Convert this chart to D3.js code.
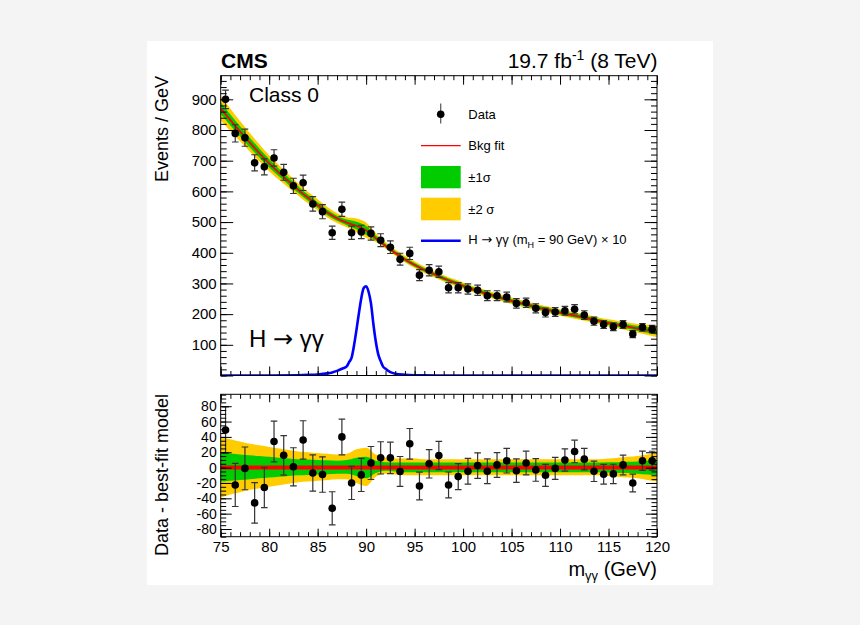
<!DOCTYPE html>
<html><head><meta charset="utf-8">
<script src="https://cdn.jsdelivr.net/npm/d3@7"></script>
<style>
body{margin:0;background:#f4f4f4}
svg{display:block}
text{font-family:"Liberation Sans",Arial,Helvetica,sans-serif;fill:#000}
.arr{font-family:"DejaVu Sans",sans-serif}
</style>
</head><body>
<svg id="c" width="860" height="625"></svg>
<script>
// ---------------- data ----------------
const binCenters = [75.5,76.5,77.5,78.5,79.5,80.5,81.5,82.5,83.5,84.5,85.5,86.5,87.5,88.5,89.5,90.5,91.5,92.5,93.5,94.5,95.5,96.5,97.5,98.5,99.5,100.5,101.5,102.5,103.5,104.5,105.5,106.5,107.5,108.5,109.5,110.5,111.5,112.5,113.5,114.5,115.5,116.5,117.5,118.5,119.5];
const dataEvents = [900,789,775,693,680,709,662,618,628,559,534,465,542,465,468,463,441,418,379,398,327,343,338,286,286,282,278,260,260,256,235,237,219,205,207,211,216,197,177,166,159,166,135,157,151];
const residuals = [49,-22.6,-1,-46,-26,34,16,1,36,-7,-9,-53,40,-20,-9.5,6,12.7,12.7,-5,31,-24,5,15.7,-22.6,-11.7,-4.8,2.6,-4.8,3.5,9,-4,6,-3,-10,-1,10,21,11,-4.8,-8.6,-8.2,3.5,-20,9,9];

const fitX = [75,76,77,78,79,80,81,82,83,84,85,86,87,88,89,90,91,92,93,94,95,96,97,98,99,100,101,102,103,104,105,106,107,108,109,110,111,112,113,114,115,116,117,118,119,120];
const fitY = [870,832,795,759,724,691,661,633,605,579,555,531,512,498,488,473,447,422,399,378,360,344,330,316,304,292,281,271,261,252,243,235,227,219,212,205,198,192,185,178,171,165,159,153,148,143];
const hi2 = [40,37,34,31,29,27,25,23,21,20,19,18,17,18,24,26,17,13,12,12,12,11,11,11,11,11,11,11,11,11,11,11,11,11,11,11,11,11,11,11,12,13,14,15,17,19];
const lo2 = [-39,-35,-32,-29,-27,-25,-23,-21,-19,-18,-17,-16,-15,-15,-20,-24,-12,-8,-9,-10,-10,-10,-10,-10,-10,-10,-10,-10,-10,-10,-10,-10,-10,-10,-10,-10,-10,-10,-10,-10,-11,-12,-13,-14,-16,-18];
const hi1 = [20,18.5,17,16,15,14,13,12,11,10.5,10,9.5,9,10,13,14,9,7,6.5,6.5,6.5,6.5,6.5,6.5,6.5,6.5,6.5,6.5,6.5,6.5,6.5,6.5,6.5,6.5,6.5,6.5,6.5,6.5,6.5,6.5,7,7,7.5,8,9,10];
const lo1 = [-18,-17,-16,-15,-14,-13,-12,-11,-10,-9.5,-9,-8.5,-8,-8,-11,-14,-7,-4,-5,-6,-6,-6,-6,-6,-6,-6,-6,-6,-6,-6,-6,-6,-6,-6,-6,-6,-6,-6,-6,-6,-6.5,-7,-7,-8,-9,-10];

const sigX = [75,80,83,84,85,86,86.5,87,87.5,88,88.25,88.5,88.75,89,89.25,89.5,89.75,90,90.25,90.5,90.75,91,91.25,91.5,91.75,92,92.5,93,94,95,96,98,120];
const sigY = [0,0.2,1,2,3.5,7,10,15,22,30,44,58,98,148,202,252,285,291,273,235,167,110,69,47,29,22,11,6,2.5,1,0.5,0,0];

const topYTicks = [0,100,200,300,400,500,600,700,800,900];
const botYTicks = [-80,-60,-40,-20,0,20,40,60,80];
const xTicks = [75,80,85,90,95,100,105,110,115,120];

// ---------------- layout ----------------
const svg = d3.select("#c");
svg.append("rect").attr("width",860).attr("height",625).attr("fill","#f4f4f4");
svg.append("rect").attr("x",147).attr("y",41).attr("width",566).attr("height",544).attr("fill","#fff");

const X0 = 220.7, X1 = 657;
const T0 = 75.7, T1 = 375.5;   // top panel frame
const B0 = 394.3, B1 = 536.7;  // bottom panel frame

const x = d3.scaleLinear().domain([75,120]).range([X0,X1]);
const yT = d3.scaleLinear().domain([0,977]).range([T1,T0]);
const yB = d3.scaleLinear().domain([-90,95.5]).range([B1,B0]);

const defs = svg.append("defs");
defs.append("clipPath").attr("id","clipT").append("rect").attr("x",X0).attr("y",T0).attr("width",X1-X0).attr("height",T1-T0);
defs.append("clipPath").attr("id","clipB").append("rect").attr("x",X0).attr("y",B0).attr("width",X1-X0).attr("height",B1-B0);

const idx = fitX.map((d,i)=>i);
const YEL = "#ffcc00", GRN = "#00cc00";

// ---------- top panel ----------
const gT = svg.append("g").attr("clip-path","url(#clipT)");
const bandT = (lo,hi) => d3.area().curve(d3.curveMonotoneX)
  .x(i=>x(fitX[i])).y0(i=>yT(fitY[i]+lo[i])).y1(i=>yT(fitY[i]+hi[i]));
gT.append("path").datum(idx).attr("d",bandT(lo2,hi2)).attr("fill",YEL);
gT.append("path").datum(idx).attr("d",bandT(lo1,hi1)).attr("fill",GRN);
gT.append("path").datum(idx).attr("d",d3.line().curve(d3.curveMonotoneX).x(i=>x(fitX[i])).y(i=>yT(fitY[i])))
  .attr("fill","none").attr("stroke","#ff0000").attr("stroke-width",1.8);
gT.append("path").datum(sigX.map((d,i)=>i))
  .attr("d",d3.line().curve(d3.curveMonotoneX).x(i=>x(sigX[i])).y(i=>yT(sigY[i])))
  .attr("fill","none").attr("stroke","#0000ff").attr("stroke-width",2.6);

function points(g, yS, vals, errs){
  const pts = g.selectAll(null).data(vals.map((v,i)=>i)).enter().append("g");
  pts.append("line").attr("x1",i=>x(binCenters[i])).attr("x2",i=>x(binCenters[i]))
    .attr("y1",i=>yS(vals[i]-errs[i])).attr("y2",i=>yS(vals[i]+errs[i]))
    .attr("stroke","#333").attr("stroke-width",1.2);
  [-1,1].forEach(s=>{
    pts.append("line").attr("x1",i=>x(binCenters[i])-3.3).attr("x2",i=>x(binCenters[i])+3.3)
      .attr("y1",i=>yS(vals[i]+s*errs[i])).attr("y2",i=>yS(vals[i]+s*errs[i]))
      .attr("stroke","#333").attr("stroke-width",1.2);
  });
  pts.append("circle").attr("cx",i=>x(binCenters[i])).attr("cy",i=>yS(vals[i])).attr("r",3.8).attr("fill","#000");
}
const errs = dataEvents.map(v=>Math.sqrt(v));
points(gT, yT, dataEvents, errs);

// ---------- bottom panel ----------
const gB = svg.append("g").attr("clip-path","url(#clipB)");
const bandB = (lo,hi) => d3.area().curve(d3.curveMonotoneX)
  .x(i=>x(fitX[i])).y0(i=>yB(lo[i])).y1(i=>yB(hi[i]));
gB.append("path").datum(idx).attr("d",bandB(lo2,hi2)).attr("fill",YEL);
gB.append("path").datum(idx).attr("d",bandB(lo1,hi1)).attr("fill",GRN);
gB.append("line").attr("x1",X0).attr("x2",X1).attr("y1",yB(0)).attr("y2",yB(0))
  .attr("stroke","#ff0000").attr("stroke-width",4);
points(gB, yB, residuals, errs);

// ---------- axes / ticks ----------
function styleAxis(g, size){
  g.select(".domain").remove();
  g.selectAll(".tick line").attr("stroke","#000").attr("stroke-width",1);
  g.selectAll("text").attr("font-family",'"Liberation Sans",Arial,sans-serif').attr("font-size",size).attr("fill","#000");
  g.attr("font-family",null).attr("font-size",null);
}
function addAxis(axisFn, scale, tr, major, minor, majLen, minLen, fmt, fsize, pad){
  const gm = svg.append("g").attr("transform",tr)
    .call(axisFn(scale).tickValues(minor).tickSize(-minLen).tickFormat(""));
  styleAxis(gm, fsize);
  const g = svg.append("g").attr("transform",tr)
    .call(axisFn(scale).tickValues(major).tickSize(-majLen).tickPadding(pad||4).tickFormat(fmt||""));
  styleAxis(g, fsize);
  return g;
}
const minorX = d3.range(75,121,1);
// top panel
addAxis(d3.axisBottom, x, `translate(0,${T1})`, xTicks, minorX, 9, 4.5, null, 15);
addAxis(d3.axisTop, x, `translate(0,${T0})`, xTicks, minorX, 9, 4.5, null, 15);
const minorTY = d3.range(0,977,20);
addAxis(d3.axisLeft, yT, `translate(${X0},0)`, topYTicks, minorTY, 12.5, 6, d=>d===0?"":d, 15, 4);
addAxis(d3.axisRight, yT, `translate(${X1},0)`, topYTicks, minorTY, 12.5, 6, null, 15);
// bottom panel
addAxis(d3.axisBottom, x, `translate(0,${B1})`, xTicks, minorX, 8, 4.5, d=>d, 15, 4.5);
addAxis(d3.axisTop, x, `translate(0,${B0})`, xTicks, minorX, 8, 4.5, null, 15);
const minorBY = d3.range(-90,96,5);
addAxis(d3.axisLeft, yB, `translate(${X0},0)`, botYTicks, minorBY, 11, 5.5, d=>d, 14, 4);
addAxis(d3.axisRight, yB, `translate(${X1},0)`, botYTicks, minorBY, 11, 5.5, null, 14);

// frames
svg.append("rect").attr("x",X0).attr("y",T0).attr("width",X1-X0).attr("height",T1-T0)
  .attr("fill","none").attr("stroke","#000").attr("stroke-width",1);
svg.append("rect").attr("x",X0).attr("y",B0).attr("width",X1-X0).attr("height",B1-B0)
  .attr("fill","none").attr("stroke","#000").attr("stroke-width",1);

// ---------- texts ----------
svg.append("text").attr("x",221).attr("y",68).attr("font-size",21).attr("font-weight","bold").text("CMS");
const lum = svg.append("text").attr("x",657.5).attr("y",68).attr("font-size",21).attr("text-anchor","end");
lum.append("tspan").text("19.7 fb");
lum.append("tspan").attr("font-size",14).attr("dy",-8).text("-1");
lum.append("tspan").attr("dy",8).text(" (8 TeV)");
svg.append("text").attr("x",249).attr("y",102).attr("font-size",21).text("Class 0");
const hgg = svg.append("text").attr("x",249).attr("y",347).attr("font-size",24);
hgg.append("tspan").text("H ");
hgg.append("tspan").attr("class","arr").text("\u2192");
hgg.append("tspan").text(" \u03b3\u03b3");

svg.append("text").attr("transform","translate(168,76) rotate(-90)").attr("text-anchor","end")
  .attr("font-size",18).text("Events / GeV");
svg.append("text").attr("transform","translate(168,394) rotate(-90)").attr("text-anchor","end")
  .attr("font-size",18).text("Data - best-fit model");
const xt = svg.append("text").attr("x",657).attr("y",576).attr("font-size",20).attr("text-anchor","end");
xt.append("tspan").text("m");
xt.append("tspan").attr("font-size",13).attr("dy",4).text("\u03b3\u03b3");
xt.append("tspan").attr("dy",-4).text(" (GeV)");

// ---------- legend ----------
const L = svg.append("g");
const lx0 = 421, lx1 = 460.7, tx = 468.3;
L.append("line").attr("x1",440.7).attr("x2",440.7).attr("y1",103.5).attr("y2",123.5).attr("stroke","#555").attr("stroke-width",1.2);
L.append("circle").attr("cx",440.7).attr("cy",114.3).attr("r",3.8).attr("fill","#000");
L.append("text").attr("x",tx).attr("y",119).attr("font-size",13).text("Data");
L.append("line").attr("x1",lx0).attr("x2",lx1).attr("y1",145.7).attr("y2",145.7).attr("stroke","#ff0000").attr("stroke-width",1.3);
L.append("text").attr("x",tx).attr("y",149.5).attr("font-size",13).text("Bkg fit");
L.append("rect").attr("x",lx0).attr("y",166).attr("width",lx1-lx0).attr("height",22.3).attr("fill",GRN);
L.append("text").attr("x",tx).attr("y",181.5).attr("font-size",13).text("\u00b11\u03c3");
L.append("rect").attr("x",lx0).attr("y",197.7).attr("width",lx1-lx0).attr("height",22.6).attr("fill",YEL);
L.append("text").attr("x",tx).attr("y",213.5).attr("font-size",13).text("\u00b12 \u03c3");
L.append("line").attr("x1",lx0).attr("x2",lx1).attr("y1",240.7).attr("y2",240.7).attr("stroke","#0000ff").attr("stroke-width",2.4);
const ht = L.append("text").attr("x",tx).attr("y",244).attr("font-size",13);
ht.append("tspan").text("H ");
ht.append("tspan").attr("class","arr").text("\u2192");
ht.append("tspan").text(" \u03b3\u03b3 (m");
ht.append("tspan").attr("font-size",9).attr("dy",4).text("H");
ht.append("tspan").attr("dy",-4).text(" = 90 GeV) \u00d7 10");
</script>
</body></html>
